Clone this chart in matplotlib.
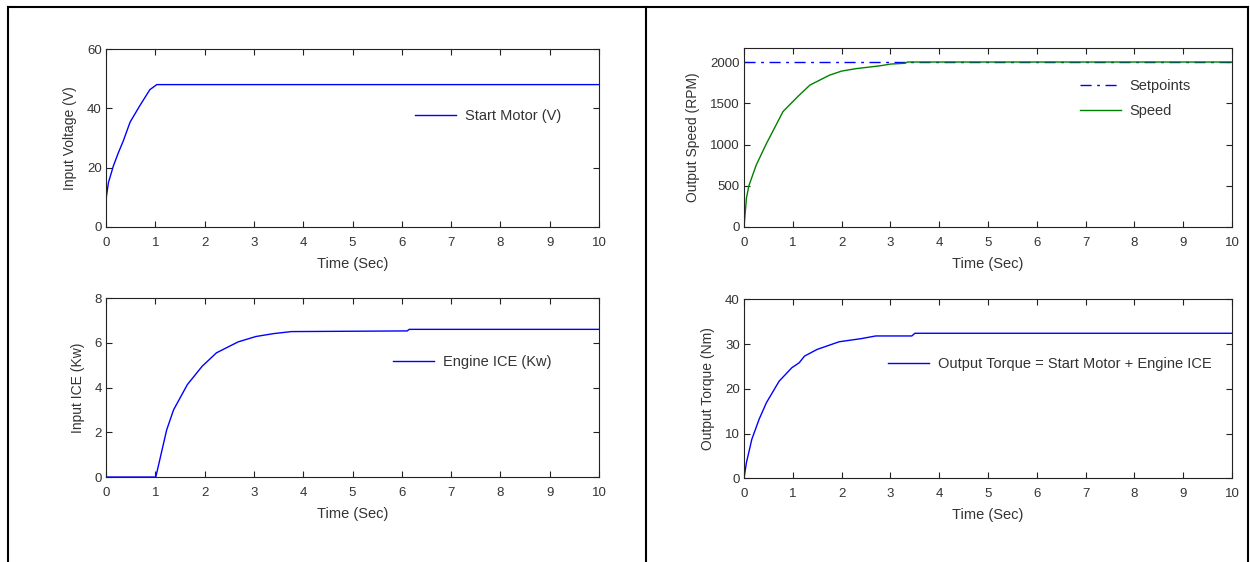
import numpy as np
import matplotlib
matplotlib.use('Agg')  # Use non-interactive backend
import matplotlib.pyplot as plt
from matplotlib.lines import Line2D

plt.rcParams['font.family'] = ['Liberation Sans', 'DejaVu Sans']
plt.rcParams['font.size'] = 9

# ---------------------------
# Data
# ---------------------------
volt_t = [0, 0.01, 0.05, 0.15, 0.25, 0.35, 0.49, 0.69, 0.89, 1.03, 10]
volt_v = [8.5, 10.5, 15, 20.6, 25, 29, 35.4, 41, 46.3, 48, 48]

speed_t = [0, 0.05, 0.1, 0.25, 0.45, 0.8, 1.1, 1.35, 1.75, 2.0, 2.3, 2.8, 3.0, 3.3, 3.35, 10]
speed_v = [0, 350, 500, 750, 1000, 1400, 1580, 1720, 1840, 1890, 1920, 1955, 1975, 1985, 2000, 2000]
setpoint_t = [0, 10]
setpoint_v = [2000, 2000]

ice_t = [0, 1.0, 1.01, 1.12, 1.23, 1.37, 1.65, 1.95, 2.24, 2.68, 3.04, 3.4, 3.76, 6.11, 6.15, 10]
ice_v = [0, 0, 0, 1.05, 2.1, 3.0, 4.13, 4.95, 5.55, 6.04, 6.28, 6.41, 6.5, 6.53, 6.6, 6.6]

torque_t = [0, 0.05, 0.16, 0.31, 0.46, 0.72, 0.98, 1.13, 1.24, 1.5, 1.95, 2.4, 2.7, 3.44, 3.5, 10]
torque_v = [0, 3.5, 8.7, 13.2, 16.9, 21.7, 24.7, 25.8, 27.3, 28.8, 30.5, 31.2, 31.8, 31.8, 32.4, 32.4]

x_ticks = list(range(0, 11))

BLUE = '#0000ff'
GREEN = '#008000'
TEXT = '#333333'

fig = plt.figure(figsize=(12.5, 5.62), dpi=100)


def style_axes(ax, ylim, yticks, ylabel):
    ax.set_xlim(0, 10)
    ax.set_ylim(*ylim)
    ax.set_xticks(x_ticks)
    ax.set_yticks(yticks)
    ax.tick_params(direction='in', top=True, right=True, length=4, width=0.8,
                   labelsize=9.5, color='#222222', labelcolor=TEXT)
    ax.tick_params(axis='x', pad=7)
    ax.tick_params(axis='y', pad=3)
    for s in ax.spines.values():
        s.set_linewidth(0.8)
        s.set_color('#222222')
    ax.set_xlabel('Time (Sec)', fontsize=10.5, labelpad=6, color=TEXT)
    ax.set_ylabel(ylabel, fontsize=10, labelpad=7, color=TEXT)


def add_legend(ax, x, y, spacing=0.5):
    leg = ax.legend(loc='center left', bbox_to_anchor=(x, y), frameon=False,
                    handlelength=2.8, handletextpad=0.6, borderpad=0,
                    borderaxespad=0, labelspacing=spacing, fontsize=10.5)
    for t in leg.get_texts():
        t.set_color(TEXT)


# top-left: input voltage
ax1 = fig.add_axes([0.0848, 0.5961, 0.3944, 0.3167])
ax1.plot(volt_t, volt_v, color=BLUE, lw=1, label='Start Motor (V)')
style_axes(ax1, (0, 60), [0, 20, 40, 60], 'Input Voltage (V)')
add_legend(ax1, 0.627, 0.624)

# bottom-left: ICE power
ax2 = fig.add_axes([0.0848, 0.1512, 0.3944, 0.3185])
ax2.plot(ice_t, ice_v, color=BLUE, lw=1, label='Engine ICE (Kw)')
style_axes(ax2, (0, 8), [0, 2, 4, 6, 8], 'Input ICE (Kw)')
add_legend(ax2, 0.582, 0.642)

# top-right: speed
ax3 = fig.add_axes([0.5952, 0.5961, 0.3904, 0.3185])
ax3.plot(setpoint_t, setpoint_v, color=BLUE, lw=1, ls='-.', dashes=(8, 4, 2, 4),
         label='Setpoints')
ax3.plot(speed_t, speed_v, color=GREEN, lw=1, label='Speed')
style_axes(ax3, (0, 2170), [0, 500, 1000, 1500, 2000], 'Output Speed (RPM)')
add_legend(ax3, 0.689, 0.718, spacing=0.75)

# bottom-right: torque
ax4 = fig.add_axes([0.5952, 0.149, 0.3904, 0.3185])
ax4.plot(torque_t, torque_v, color=BLUE, lw=1,
         label='Output Torque = Start Motor + Engine ICE')
style_axes(ax4, (0, 40), [0, 10, 20, 30, 40], 'Output Torque (Nm)')
add_legend(ax4, 0.295, 0.637)

# table-like frame around the panels
for xs, ys in [([0.0064, 0.0064], [0, 0.9875]),
               ([0.5168, 0.5168], [0, 0.9875]),
               ([0.9984, 0.9984], [0, 0.9875]),
               ([0.0064, 0.9984], [0.9875, 0.9875])]:
    fig.add_artist(Line2D(xs, ys, transform=fig.transFigure, color='black', lw=1.5))

plt.savefig('out.png', dpi=100)
plt.close()
